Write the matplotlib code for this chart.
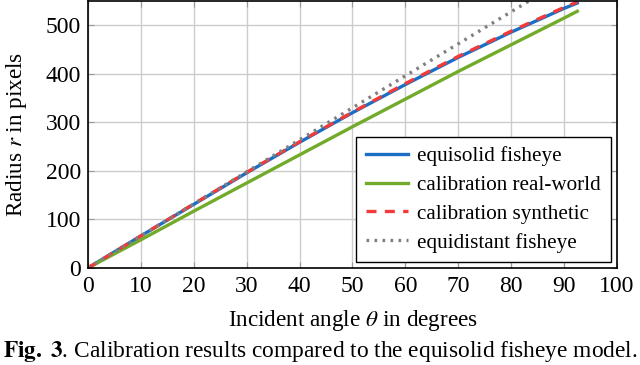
import matplotlib
matplotlib.use("Agg")
import matplotlib.pyplot as plt

plt.rcParams["font.family"] = ["Liberation Serif", "DejaVu Serif"]
plt.rcParams["mathtext.fontset"] = "stix"

# incident angle in degrees
theta = [0, 10, 20, 30, 40, 50, 60, 70, 80, 90, 92.5]

# radius in pixels
equisolid = [0, 66, 131, 196, 259, 320, 378, 434, 486, 535, 546]
real_world = [0, 58, 117, 175, 233, 291, 348, 405, 460, 515, 529]
synthetic = [0, 66, 132, 197, 260, 321, 380, 436, 488, 537, 548]
equidistant = [0, 66, 132, 198, 264, 330, 396, 462, 528, 594, 610]

labels = ["equisolid fisheye", "calibration real-world",
          "calibration synthetic", "equidistant fisheye"]

fig = plt.figure(figsize=(6.4, 3.65), dpi=100)
ax = fig.add_axes([0.1375, 0.266, 0.8265, 0.731])

ax.plot(theta, equisolid, color="#1a6fc4", lw=2.4, label=labels[0])
ax.plot(theta, real_world, color="#72ab2a", lw=2.4, label=labels[1])
ax.plot(theta, synthetic, color="#f23a3a", lw=2.4, ls=(0, (3, 2.5)), label=labels[2])
ax.plot(theta, equidistant, color="#808080", lw=2.4, ls=(0, (0.8, 1.6)), label=labels[3])

ax.set_xlim(0, 100)
ax.set_ylim(0, 550)
ax.set_xticks(range(0, 101, 10))
ax.set_yticks(range(0, 501, 100))
ax.grid(True, color="#cccccc", lw=1)
ax.set_axisbelow(True)
ax.tick_params(direction="in", top=True, right=True, length=4,
               color="#999999", labelsize=17)
ax.tick_params(axis="x", pad=5.5)
ax.tick_params(axis="y", pad=5)
for s in ax.spines.values():
    s.set_linewidth(1.2)

ax.set_xlabel(r"Incident angle $\theta$ in degrees", fontsize=16.7, labelpad=8)
ax.set_ylabel(r"Radius $r$ in pixels", fontsize=16.7, labelpad=12)

leg = ax.legend(loc="lower right", fontsize=15.2, fancybox=False,
                framealpha=1, edgecolor="black", handlelength=2.0,
                handletextpad=0.45, borderpad=0.45, labelspacing=0.42,
                borderaxespad=0, bbox_to_anchor=(0.988, 0.022))
leg.get_frame().set_linewidth(1)

fig.text(0.5, 0.038, r"$\mathbf{Fig.\ 3}$. Calibration results compared to the equisolid fisheye model.",
         ha="center", va="center", fontsize=16.8)

fig.savefig("out.png", dpi=100)
